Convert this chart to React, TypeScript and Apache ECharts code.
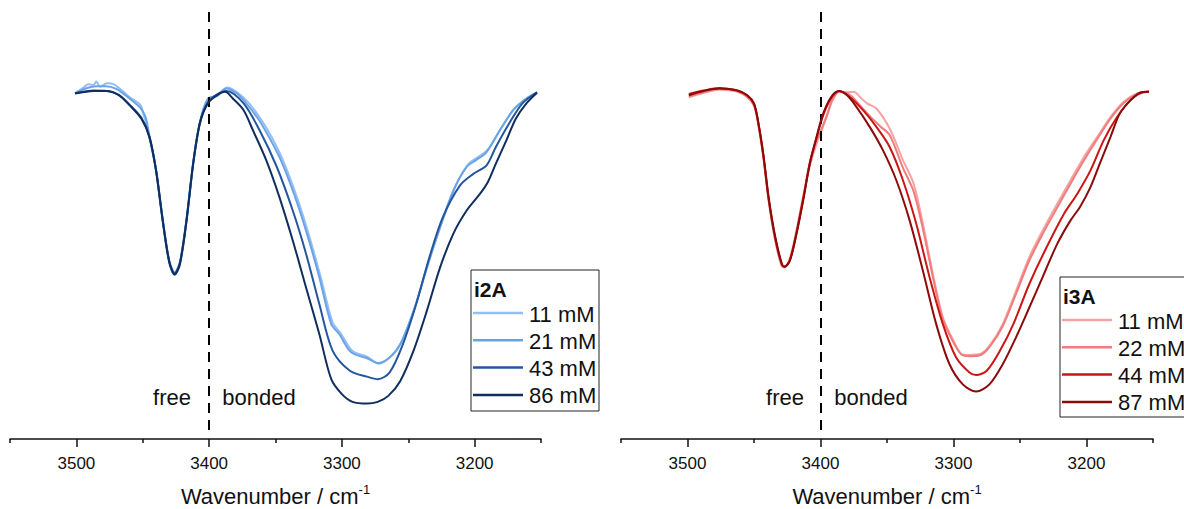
import React, { useEffect, useRef } from "react";
import * as echarts from "echarts";

// IR spectra (O-H stretch region), wavenumber in cm-1 vs. relative transmittance (a.u.)
const i2aNames = ["11 mM", "21 mM", "43 mM", "86 mM"];
const i2aColors = ["#94bff0", "#6aa3e8", "#23569f", "#0f2e5e"];
const i3aNames = ["11 mM", "22 mM", "44 mM", "87 mM"];
const i3aColors = ["#f6a3a3", "#f07c7c", "#cc1414", "#8c0a0a"];

const majorTicks = [3500, 3400, 3300, 3200];
const minorTicks = [3550, 3450, 3350, 3250, 3150];
const boundary = 3400;

const i2a11: number[][] = [[3501,80.9],[3494,82.5],[3491,83.1],[3487,82.9],[3485,83.7],[3482,82.5],[3477,83.3],[3472,83.1],[3466,81.7],[3460,80.1],[3453,78.6],[3451,77.8],[3450,76.6],[3448,74.6],[3445,70.6],[3440,62.8],[3435,51.0],[3430,41.2],[3426,38.4],[3422,40.8],[3417,51.0],[3412,64.3],[3407,73.8],[3401,79.5],[3394,80.6],[3386,82.3],[3379,81.2],[3371,79.0],[3363,75.8],[3356,72.4],[3346,66.4],[3336,58.5],[3326,49.0],[3316,38.0],[3307,27.3],[3301,24.8],[3292,20.6],[3281,19.3],[3272,17.6],[3263,19.4],[3255,22.8],[3245,30.8],[3235,41.0],[3225,50.4],[3215,58.8],[3205,64.3],[3198,65.9],[3190,67.8],[3180,72.8],[3170,77.4],[3160,80.0],[3153,81.2]];
const i2a21: number[][] = [[3501,81.0],[3492,82.2],[3485,82.6],[3478,82.6],[3470,82.0],[3461,80.0],[3452,77.6],[3448,75.5],[3445,71.0],[3440,63.2],[3435,51.6],[3430,41.8],[3426,39.0],[3422,41.5],[3417,51.6],[3412,64.8],[3407,74.2],[3401,79.7],[3394,80.3],[3387,82.1],[3379,80.9],[3372,78.6],[3364,75.4],[3357,71.9],[3347,66.0],[3337,58.2],[3327,48.8],[3317,37.9],[3308,26.9],[3302,24.6],[3293,20.3],[3281,18.9],[3273,17.8],[3264,19.1],[3256,22.2],[3246,30.0],[3236,40.2],[3226,49.6],[3216,58.2],[3206,63.7],[3199,65.3],[3191,67.2],[3181,72.3],[3171,77.0],[3161,79.7],[3153,81.2]];
const i2a43: number[][] = [[3501,81.0],[3487,81.6],[3477,81.5],[3468,80.6],[3460,78.3],[3451,75.2],[3445,70.9],[3440,63.0],[3435,51.4],[3430,41.5],[3426,38.8],[3422,41.2],[3417,51.4],[3412,64.6],[3407,74.0],[3401,78.8],[3394,80.7],[3387,81.5],[3374,78.6],[3362,72.3],[3349,63.7],[3337,53.5],[3327,43.4],[3317,31.6],[3307,20.7],[3294,16.0],[3281,14.6],[3273,14.0],[3264,15.6],[3254,22.2],[3244,31.6],[3234,42.6],[3224,51.9],[3211,59.4],[3201,62.1],[3191,64.1],[3184,68.4],[3174,73.9],[3164,78.6],[3153,81.2]];
const i2a86: number[][] = [[3501,80.9],[3487,81.5],[3477,81.5],[3468,80.5],[3460,78.2],[3451,75.0],[3445,70.7],[3440,62.9],[3435,51.2],[3430,41.4],[3426,38.5],[3422,41.0],[3417,51.2],[3412,64.5],[3407,73.9],[3401,78.6],[3394,80.5],[3388,81.3],[3382,79.7],[3374,77.0],[3367,72.3],[3357,65.3],[3347,56.6],[3337,46.5],[3327,35.5],[3317,24.6],[3308,14.0],[3300,10.5],[3292,8.7],[3281,8.3],[3273,8.7],[3265,10.1],[3256,13.6],[3246,20.7],[3236,30.0],[3226,40.2],[3216,48.1],[3206,53.5],[3196,57.4],[3190,60.2],[3184,64.5],[3176,70.0],[3169,75.0],[3161,78.6],[3153,81.1]];

const i3a11: number[][] = [[3499,80.0],[3488,81.0],[3476,81.8],[3463,81.4],[3455,80.0],[3450,78.0],[3447,74.0],[3443,66.0],[3439,55.8],[3434,46.4],[3429,40.5],[3427,40.4],[3423,42.4],[3418,49.0],[3413,57.0],[3408,64.0],[3403,69.0],[3400,71.6],[3395,75.8],[3391,79.3],[3386,81.4],[3381,81.2],[3375,81.3],[3370,80.0],[3365,78.6],[3358,77.4],[3348,72.7],[3338,65.3],[3330,59.8],[3323,50.4],[3315,37.9],[3308,28.5],[3300,23.0],[3294,19.9],[3288,19.7],[3280,19.9],[3273,21.8],[3263,26.9],[3253,34.7],[3243,42.6],[3233,48.8],[3222,55.1],[3212,60.6],[3202,66.0],[3192,70.7],[3182,75.4],[3172,79.0],[3162,80.9],[3153,81.3]];
const i3a22: number[][] = [[3499,80.2],[3488,81.2],[3476,82.0],[3463,81.5],[3455,80.2],[3450,78.2],[3447,74.2],[3443,66.2],[3439,56.0],[3434,46.6],[3429,40.6],[3427,40.2],[3423,42.0],[3418,48.6],[3413,56.5],[3408,64.6],[3403,69.8],[3400,72.0],[3395,76.0],[3391,79.5],[3386,81.3],[3378,80.6],[3370,78.0],[3362,75.3],[3355,73.2],[3348,71.2],[3338,63.5],[3330,58.0],[3323,49.2],[3315,37.2],[3308,28.0],[3300,22.6],[3294,19.8],[3288,19.4],[3280,19.6],[3273,21.5],[3263,26.4],[3253,34.0],[3243,41.8],[3233,48.0],[3222,54.2],[3212,59.8],[3202,65.2],[3192,70.2],[3182,75.0],[3172,78.7],[3162,80.7],[3153,81.3]];
const i3a44: number[][] = [[3499,80.8],[3488,81.6],[3476,82.2],[3463,81.6],[3455,80.4],[3450,78.4],[3447,74.4],[3443,66.5],[3439,56.3],[3434,47.0],[3429,40.8],[3427,40.3],[3423,41.9],[3418,48.3],[3413,56.2],[3408,64.8],[3403,70.5],[3398,75.8],[3392,79.8],[3386,81.5],[3378,80.1],[3368,77.0],[3358,73.1],[3348,68.4],[3338,60.6],[3328,50.4],[3318,37.9],[3308,26.9],[3298,19.1],[3288,15.6],[3283,15.0],[3275,16.0],[3265,20.7],[3255,26.9],[3243,36.3],[3230,44.9],[3217,52.7],[3207,57.4],[3197,62.9],[3187,70.0],[3177,75.4],[3167,79.3],[3157,81.3],[3153,81.4]];
const i3a87: number[][] = [[3499,80.5],[3488,81.5],[3476,82.1],[3463,81.7],[3455,80.5],[3450,78.6],[3447,74.6],[3443,66.8],[3439,56.6],[3434,47.3],[3429,41.0],[3427,40.4],[3423,41.8],[3418,48.1],[3413,55.9],[3408,64.5],[3403,70.7],[3398,76.2],[3392,80.1],[3386,81.5],[3380,80.5],[3373,77.8],[3363,73.1],[3353,67.6],[3343,60.6],[3333,51.2],[3323,39.4],[3313,26.9],[3303,17.5],[3293,12.8],[3283,11.1],[3273,12.8],[3263,17.5],[3253,23.8],[3243,30.8],[3233,37.9],[3222,45.7],[3212,51.2],[3205,54.3],[3197,59.0],[3190,64.5],[3182,70.7],[3175,76.2],[3167,79.3],[3160,81.1],[3153,81.3]];

const i2aSeries = [i2a11, i2a21, i2a43, i2a86];
const i3aSeries = [i3a11, i3a22, i3a44, i3a87];

const FONT = '"Liberation Sans", Arial, Helvetica, sans-serif';

function makeXAxes(gridIndex: number) {
  const base = {
    type: "value" as const,
    gridIndex,
    position: "bottom" as const,
    offset: 0,
    min: 3150,
    max: 3550,
    inverse: true,
    splitLine: { show: false },
  };
  return [
    {
      ...base,
      name: "Wavenumber / cm{sup|-1}",
      nameLocation: "middle" as const,
      nameGap: 44,
      nameTextStyle: {
        fontFamily: FONT,
        fontSize: 22,
        color: "#111",
        lineHeight: 26,
        rich: { sup: { fontFamily: FONT, fontSize: 13, lineHeight: 13, verticalAlign: "top", color: "#111" } },
      },
      axisLine: { show: true, onZero: false, lineStyle: { color: "#111", width: 1.5 } },
      axisTick: { show: true, inside: false, length: 8, customValues: majorTicks, lineStyle: { color: "#111", width: 1.5 } },
      axisLabel: {
        show: true,
        customValues: majorTicks,
        margin: 16,
        fontFamily: FONT,
        fontSize: 17,
        color: "#111",
        formatter: (v: number) => String(v),
      },
    },
    {
      ...base,
      axisLine: { show: false, onZero: false },
      axisTick: { show: true, inside: false, length: 4, customValues: minorTicks, lineStyle: { color: "#111", width: 1.5 } },
      axisLabel: { show: false },
    },
  ];
}

function makeSeries(sets: number[][][], names: string[], colors: string[], xIdx: number, yIdx: number) {
  return sets.map((data, i) => ({
    type: "line" as const,
    name: names[i],
    data,
    xAxisIndex: xIdx,
    yAxisIndex: yIdx,
    showSymbol: false,
    symbol: "none",
    smooth: 0.3,
    lineStyle: { color: colors[i], width: 2 },
    z: 2 + i,
    markLine:
      i === sets.length - 1
        ? {
            silent: true,
            symbol: ["none", "none"],
            label: { show: false },
            lineStyle: { color: "#000", type: [10, 7], width: 2 },
            data: [[{ coord: [boundary, 100] }, { coord: [boundary, 1.5] }]],
          }
        : undefined,
  }));
}

function legendBox(x: number, y: number, w: number, h: number, title: string, names: string[], colors: string[]) {
  const children: any[] = [
    { type: "rect", shape: { x, y, width: w, height: h }, style: { fill: "#fff", stroke: "#222", lineWidth: 1 } },
    {
      type: "text",
      style: { x: x + 3, y: y + 19, text: title, fontFamily: FONT, fontSize: 21, fontWeight: "bold", fill: "#111", verticalAlign: "middle" },
    },
  ];
  names.forEach((n, i) => {
    const cy = y + 43 + i * 27.3;
    children.push({
      type: "line",
      shape: { x1: x + 2, y1: cy, x2: x + 52, y2: cy },
      style: { stroke: colors[i], lineWidth: 2.5 },
    });
    children.push({
      type: "text",
      style: { x: x + 58, y: cy + 1, text: n, fontFamily: FONT, fontSize: 22, fill: "#111", verticalAlign: "middle" },
    });
  });
  return { type: "group", children };
}

function annot(cx: number, text: string) {
  return {
    type: "text",
    style: { x: cx, y: 397, text, fontFamily: FONT, fontSize: 22, fill: "#111", align: "center", verticalAlign: "middle" },
  };
}

export default function App() {
  const ref = useRef<HTMLDivElement>(null);

  useEffect(() => {
    if (!ref.current) return;
    const chart = echarts.init(ref.current, undefined, { renderer: "svg" });
    const option: any = {
      animation: false,
      backgroundColor: "#fff",
      grid: [
        { left: 10, top: 12, width: 531, height: 427, outerBoundsMode: "none", containLabel: false },
        { left: 621, top: 12, width: 532, height: 427, outerBoundsMode: "none", containLabel: false },
      ],
      xAxis: [...makeXAxes(0), ...makeXAxes(1)],
      yAxis: [
        { type: "value", gridIndex: 0, min: 0, max: 100, show: false },
        { type: "value", gridIndex: 1, min: 0, max: 100, show: false },
      ],
      series: [
        ...makeSeries(i2aSeries, i2aNames, i2aColors, 0, 0),
        ...makeSeries(i3aSeries, i3aNames, i3aColors, 2, 1),
      ],
      graphic: [
        annot(172, "free"),
        annot(259, "bonded"),
        annot(785, "free"),
        annot(871, "bonded"),
        legendBox(471, 270, 128, 141, "i2A", i2aNames, i2aColors),
        legendBox(1060, 277, 140, 140, "i3A", i3aNames, i3aColors),
      ],
    };
    chart.setOption(option);
    return () => chart.dispose();
  }, []);

  return (
    <div
      ref={ref}
      style={{ position: "fixed", left: 0, top: 0, width: 1184, height: 509, background: "#fff" }}
    />
  );
}
